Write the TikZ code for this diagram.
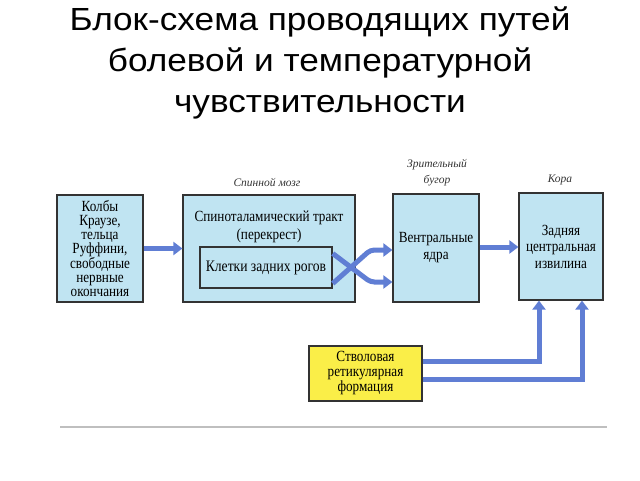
\documentclass[tikz,border=0pt]{standalone}
\usepackage{fontspec}
\setmainfont{Liberation Serif}
\newfontfamily\titlefont[FakeStretch=1.1]{Liberation Sans}
\newfontfamily\boxfont[FakeStretch=0.85]{Liberation Serif}
\usetikzlibrary{arrows.meta,positioning,calc}
\definecolor{boxblue}{RGB}{192,228,242}
\definecolor{flowblue}{RGB}{96,126,212}
\definecolor{formyellow}{RGB}{250,238,72}

\begin{document}
\begin{tikzpicture}[x=1pt, y=-1pt,
    block/.style={draw=black!80, line width=1.2pt, fill=boxblue, inner sep=0pt,
        align=center, font=\boxfont\fontsize{15.5}{17}\selectfont},
    note/.style={align=center, text=black!80, font=\itshape\fontsize{11.5}{16}\selectfont},
    flow/.style={draw=flowblue, line width=5pt, -{Triangle[width=13pt,length=9pt]}}]
    \useasboundingbox (0,0) rectangle (640,480);

    % Title
    \node[anchor=north, align=center, font=\titlefont\fontsize{32}{41}\selectfont] (title) at (320,3)
        {Блок-схема проводящих путей\\болевой и температурной\\чувствительности};

    % Boxes
    \node[block, minimum width=86pt, minimum height=107pt, font=\boxfont\fontsize{15.5}{14}\selectfont] (receptors) at (100,248.5)
        {Колбы\\Краузе,\\тельца\\Руффини,\\свободные\\нервные\\окончания};
    \node[block, minimum width=172pt, minimum height=107pt] (tract) at (269,248.5) {};
    \node[align=center, font=\boxfont\fontsize{15.5}{18}\selectfont] (tracttext) at (269,227)
        {Спиноталамический тракт\\(перекрест)};
    \node[block, line width=1.5pt, minimum width=132pt, minimum height=41pt, font=\boxfont\fontsize{16}{17}\selectfont] (horns) at (266,267.5)
        {Клетки задних рогов};
    \node[block, minimum width=86pt, minimum height=108pt] (nuclei) at (436,248)
        {Вентральные\\ядра};
    \node[block, minimum width=84pt, minimum height=107pt, font=\boxfont\fontsize{15.5}{16.5}\selectfont] (cortex) at (561,246.5)
        {Задняя\\центральная\\извилина};
    \node[block, fill=formyellow, minimum width=113pt, minimum height=55pt, font=\boxfont\fontsize{15.5}{15}\selectfont] (formation) at (365.5,373.5)
        {Стволовая\\ретикулярная\\формация};

    % Labels
    \node[note] (spinal) at (267,182) {Спинной мозг};
    \node[note] (thalamus) at (437,173) {Зрительный\\бугор};
    \node[note] (kora) at (560,180) {Кора};

    % Pathways
    \draw[flow] (receptors) -- (receptors -| tract.west);
    \draw[flow, rounded corners=4pt] ($(horns.east)+(0,-14)$) -- ($(nuclei.west)+(-22,34)$) -- ($(nuclei.west)+(0,34)$);
    \draw[flow, rounded corners=4pt] ($(horns.east)+(0,16)$) -- ($(nuclei.west)+(-22,2)$) -- ($(nuclei.west)+(0,2)$);
    \draw[flow] ($(nuclei.east)+(0,-1)$) -- ($(nuclei.east -| cortex.west)+(0,-1)$);
    \draw[flow] ($(formation.east)+(0,-12.5)$) -| ($(cortex.south)+(-22,0)$);
    \draw[flow] ($(formation.east)+(0,5.5)$) -| ($(cortex.south)+(21,0)$);

    % Bottom rule
    \draw[black!25, line width=1.5pt] (60,427) -- (607,427);
\end{tikzpicture}
\end{document}
